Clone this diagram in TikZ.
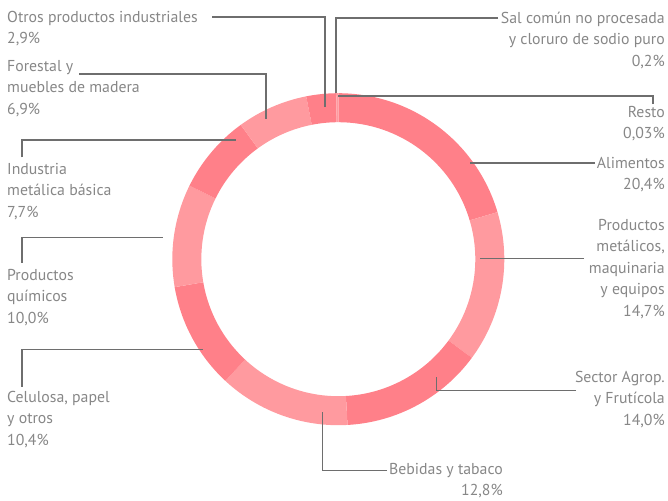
\documentclass[tikz,border=0pt]{standalone}
\usepackage{fontspec}
\setmainfont{PT Sans}
\definecolor{segdark}{RGB}{255,128,137}
\definecolor{seglight}{RGB}{255,154,159}
\definecolor{linegray}{RGB}{110,110,110}
\definecolor{textgray}{RGB}{135,135,135}
\begin{document}
\begin{tikzpicture}[x=1pt,y=-1pt,
  lbl/.style={inner sep=0pt, text=textgray, font=\fontsize{15.8}{21.5}\selectfont},
  lblL/.style={lbl, anchor=north west, align=left},
  lblR/.style={lbl, anchor=north east, align=right},
  conn/.style={draw=linegray, line width=1.1pt}]
\useasboundingbox (0,0) rectangle (668,500);
% ring
\begin{scope}[shift={(338.3,259.2)}, yscale=-1]
\def\R{166}\def\r{137}
\foreach \a/\b/\c in {0/0.03/segdark, 0.03/20.43/segdark, 20.43/35.13/seglight, 35.13/49.13/segdark, 49.13/61.93/seglight, 61.93/72.33/segdark, 72.33/82.33/seglight, 82.33/90.03/segdark, 90.03/96.93/seglight, 96.93/99.83/segdark, 99.83/100.03/seglight}{
  \pgfmathsetmacro\sa{90-\a*3.5989}
  \pgfmathsetmacro\ea{90-\b*3.5989}
  \fill[\c] (\sa:\R) arc[start angle=\sa, end angle=\ea, radius=\R] -- (\ea:\r) arc[start angle=\ea, end angle=\sa, radius=\r] -- cycle;
}
\end{scope}
% labels
\node[lblL] (otros) at (7,7) {\strut Otros productos industriales\\2,9\%};
\node[lblL] (forestal) at (7,56) {\strut Forestal y\\muebles de madera\\6,9\%};
\node[lblL] (industria) at (7,159) {\strut Industria\\metálica básica\\7,7\%};
\node[lblL] (quimicos) at (7,265) {\strut Productos\\químicos\\10,0\%};
\node[lblL] (celulosa) at (7,387) {\strut Celulosa, papel\\y otros\\10,4\%};
\node[lblR] (sal) at (665,8) {\strut Sal común no procesada\\y cloruro de sodio puro\\0,2\%};
\node[lblR] (resto) at (665,102) {\strut Resto\\0,03\%};
\node[lblR] (alimentos) at (665,153) {\strut Alimentos\\20,4\%};
\node[lblR] (prodmet) at (665,215) {\strut Productos\\metálicos,\\maquinaria\\y equipos\\14,7\%};
\node[lblR] (agrop) at (665,367) {\strut Sector Agrop.\\y Frutícola\\14,0\%};
\node[lblR] (bebidas) at (503,459) {\strut Bebidas y tabaco\\12,8\%};
% connector ends
\coordinate (otrosL) at (212,17);    \coordinate (otrosP) at (325,107);
\coordinate (salL) at (498,18);      \coordinate (salP) at (336,93);
\coordinate (restoL) at (653,104);   \coordinate (restoP) at (338,96);
\coordinate (aliL) at (595,163);     \coordinate (aliP) at (470,163);
\coordinate (pmL) at (584,258.3);    \coordinate (pmP) at (480,258.3);
\coordinate (agrL) at (576,390.7);   \coordinate (agrP) at (436.7,377.3);
\coordinate (bebL) at (387,470.7);   \coordinate (bebP) at (322.7,411.7);
\coordinate (celL) at (22,386.7);    \coordinate (celP) at (202.7,349.3);
\coordinate (quiL) at (22,262.7);    \coordinate (quiP) at (163.3,237.7);
\coordinate (indL) at (22,157.3);    \coordinate (indP) at (236,140);
\coordinate (forL) at (79,74);       \coordinate (forP) at (266,119.3);
% connectors
\draw[conn] (otrosL) -| (otrosP);
\draw[conn] (salL) -| (salP);
\draw[conn] (restoL) |- (restoP);
\draw[conn] (aliL) -- (aliP);
\draw[conn] (pmL) -- (pmP);
\draw[conn] (agrL) -| (agrP);
\draw[conn] (bebL) -| (bebP);
\draw[conn] (celL) |- (celP);
\draw[conn] (quiL) |- (quiP);
\draw[conn] (indL) |- (indP);
\draw[conn] (forL) -| (forP);
\end{tikzpicture}
\end{document}
